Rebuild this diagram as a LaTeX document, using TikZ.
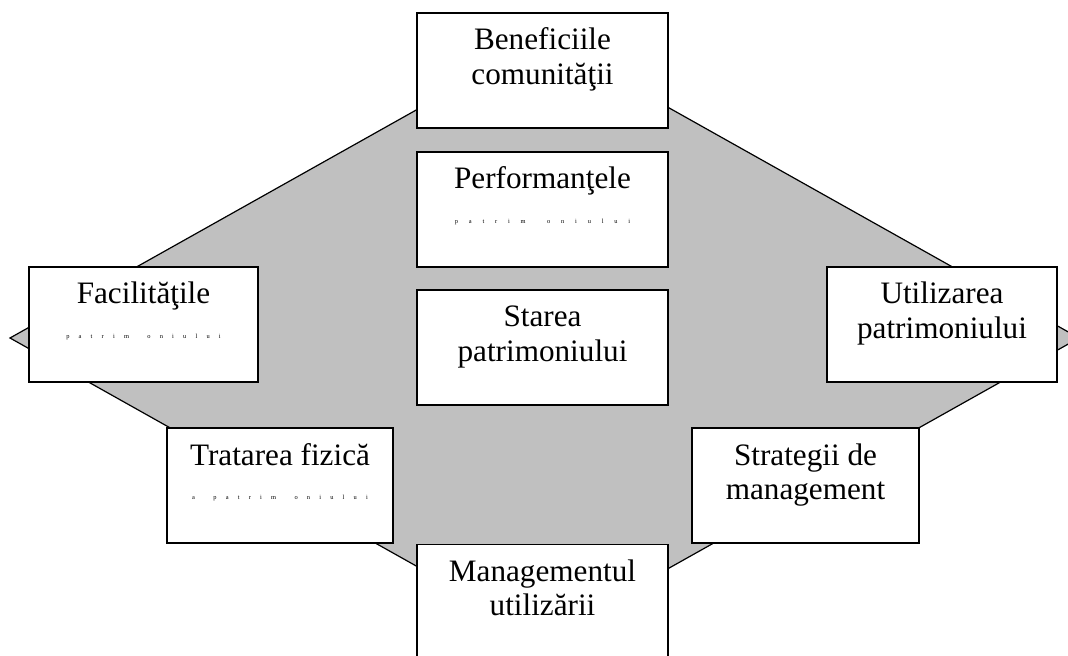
\documentclass[tikz,border=0pt]{standalone}
\usepackage{fontspec}
\setmainfont{Liberation Serif}
\definecolor{diamondgray}{RGB}{192,192,192}
\newcommand\bxt[2]{\parbox[c][57.5pt][t]{#1}{\centering\fontsize{15.6}{17.2}\selectfont\rule{0pt}{18.5pt}#2}}
\newcommand\tl[2]{{\fontsize{3.2}{3}\selectfont\color{black}\def\k{\hspace{#1}}#2}}
\tikzset{
  bx/.style={draw=black, line width=0.75pt, fill=white, inner sep=0pt, rectangle},
  shapeline/.style={draw=black, line width=0.6pt, fill=diamondgray}
}
\begin{document}
\begin{tikzpicture}[x=0.5pt,y=-0.5pt]
\useasboundingbox (0,0) rectangle (1068,656);
% gray diamond
\path[shapeline] (10,338) -- (544.5,38) -- (1079,338) -- (544.5,638) -- cycle;
% boxes
\node[bx] (ben) at (542.5,70.5) {\bxt{125.5pt}{Beneficiile\\comunităţii}};
\node[bx] (perf) at (542.5,209.5) {\bxt{125.5pt}{Performanţele\\\tl{5.4pt}{p\k a\k t\k r\k i\k m\k\k o\k n\k i\k u\k l\k u\k i}}};
\node[bx] (star) at (542.5,347.5) {\bxt{125.5pt}{Starea\\patrimoniului}};
\node[bx] (fac) at (143.5,324.5) {\bxt{114.5pt}{Facilităţile\\\tl{4.6pt}{p\k a\k t\k r\k i\k m\k\k o\k n\k i\k u\k l\k u\k i}}};
\node[bx] (util) at (942,324.5) {\bxt{115pt}{Utilizarea\\patrimoniului}};
\node[bx] (trat) at (280,485.5) {\bxt{113pt}{Tratarea fizică\\\tl{4.6pt}{a\k\k p\k a\k t\k r\k i\k m\k\k o\k n\k i\k u\k l\k u\k i}}};
\node[bx] (strat) at (805.5,485.5) {\bxt{113.5pt}{Strategii de\\management}};
\node[bx] (man) at (542.5,602) {\bxt{125.5pt}{Managementul\\utilizării}};
\end{tikzpicture}
\end{document}
